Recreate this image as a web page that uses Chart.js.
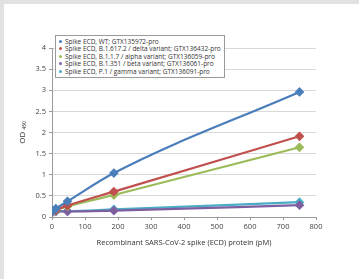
<!DOCTYPE html>
<html>
<head>
<meta charset="utf-8">
<script src="https://cdn.jsdelivr.net/npm/chart.js@4"></script>
<style>
    html, body { margin: 0; padding: 0; background: #fff; }
    #wrap { position: relative; width: 359px; height: 279px; overflow: hidden; }
    #frame { position: absolute; left: 0; top: 0; width: 355px; height: 275px;
             border-left: 4px solid #e2e2e2; border-top: 4px solid #e2e2e2; pointer-events: none; }
    #legend { position: absolute; left: 55px; top: 35px; width: 170px; background: #fff;
              border: 1px solid #9a9a9a; padding: 2px 0 2px 3px; box-sizing: border-box;
              font-family: 'Open Sans', sans-serif; font-size: 6.5px; color: #333; line-height: 7.4px; }
    #legend span.dot { display: inline-block; width: 3px; height: 3px; border-radius: 2px; margin-right: 3px; vertical-align: 1px; }
</style>
</head>
<body>
<div id="wrap">
    <canvas id="od-chart" width="359" height="279"></canvas>
    <div id="legend"></div>
    <div id="frame"></div>
</div>
<script>
// concentrations (pM)
var concentrations = [0, 2.9, 11.7, 46.9, 187.5, 750];

var seriesLabels = [
    'Spike ECD, WT; GTX135972-pro',
    'Spike ECD, B.1.617.2 / delta variant; GTX136432-pro',
    'Spike ECD, B.1.1.7 / alpha variant; GTX136059-pro',
    'Spike ECD, B.1.351 / beta variant; GTX136061-pro',
    'Spike ECD, P.1 / gamma variant; GTX136091-pro'
];

// OD450 readings
var wtValues    = [0.13, 0.15, 0.20, 0.37, 1.04, 2.96];
var deltaValues = [0.13, 0.14, 0.17, 0.27, 0.60, 1.91];
var alphaValues = [0.13, 0.14, 0.16, 0.25, 0.52, 1.65];
var betaValues  = [0.12, 0.12, 0.13, 0.13, 0.15, 0.28];
var gammaValues = [0.13, 0.13, 0.14, 0.14, 0.18, 0.35];

var xTicks = [0, 100, 200, 300, 400, 500, 600, 700, 800];
var yTicks = [0, 0.5, 1, 1.5, 2, 2.5, 3, 3.5, 4];

var seriesColors = ['#4a7ebb', '#c0504d', '#9bbb59', '#7d5fa0', '#4bacc6'];

function toPoints(values) {
    return values.map(function (v, i) { return { x: concentrations[i], y: v }; });
}

document.addEventListener('DOMContentLoaded', function () {
    var allValues = [wtValues, deltaValues, alphaValues, betaValues, gammaValues];
    var datasets = allValues.map(function (vals, i) {
        return {
            label: seriesLabels[i],
            data: toPoints(vals),
            borderColor: seriesColors[i],
            backgroundColor: seriesColors[i],
            borderWidth: 2.2,
            pointStyle: 'rectRot',
            pointRadius: 3.3,
            cubicInterpolationMode: 'monotone'
        };
    });

    var tickFont = { family: "'Open Sans', sans-serif", size: 7.5 };

    var ctx = document.getElementById('od-chart').getContext('2d');
    var odChart = new Chart(ctx, {
        type: 'line',
        data: { datasets: datasets },
        options: {
            responsive: false,
            animation: false,
            layout: { padding: { left: 14, top: 48, right: 43, bottom: 28 } },
            plugins: { legend: { display: false }, tooltip: { enabled: false } },
            scales: {
                x: {
                    type: 'linear',
                    min: 0, max: 800,
                    afterBuildTicks: function (axis) { axis.ticks = xTicks.map(function (v) { return { value: v }; }); },
                    grid: { display: true, drawOnChartArea: false, drawTicks: true, tickLength: 3, color: '#9a9a9a' },
                    border: { color: '#9a9a9a' },
                    ticks: { font: tickFont, color: '#444', padding: 2, maxRotation: 0 },
                    title: { display: true, text: 'Recombinant SARS-CoV-2 spike (ECD) protein (pM)',
                             font: { family: "'Open Sans', sans-serif", size: 7.5 }, color: '#333', padding: { top: 5 } },
                    afterFit: function (axis) { axis.height = 34; }
                },
                y: {
                    min: 0, max: 4,
                    afterBuildTicks: function (axis) { axis.ticks = yTicks.map(function (v) { return { value: v }; }); },
                    grid: { color: '#d9d9d9', tickLength: 3, tickColor: '#9a9a9a' },
                    border: { color: '#9a9a9a' },
                    ticks: { font: tickFont, color: '#444', padding: 3,
                             callback: function (v) { return String(v); } },
                    title: { display: true, text: 'OD ₄₅₀', font: { family: "'Open Sans', sans-serif", size: 8 }, color: '#333' },
                    afterFit: function (axis) { axis.width = 38; }
                }
            }
        }
    });

    // legend box overlapping the plot, as in the source figure
    var legendBox = document.getElementById('legend');
    seriesLabels.forEach(function (label, i) {
        var row = document.createElement('div');
        row.innerHTML = '<span class="dot" style="background:' + seriesColors[i] + '"></span>' + label;
        legendBox.appendChild(row);
    });
});
</script>
</body>
</html>
